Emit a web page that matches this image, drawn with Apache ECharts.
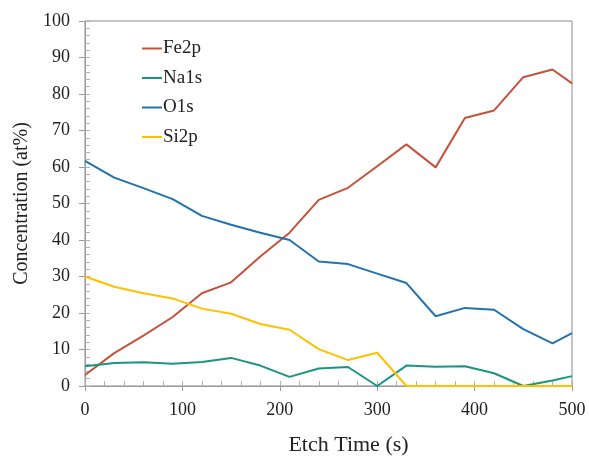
<!DOCTYPE html>
<html>
<head>
<meta charset="utf-8">
<script src="https://cdn.jsdelivr.net/npm/echarts@6/dist/echarts.min.js"></script>
<style>
  html, body { margin: 0; padding: 0; background: #fff; }
  #chart { width: 589px; height: 459px; }
</style>
</head>
<body>
<div id="chart"></div>
<script>
// Etch time (s) for each depth-profile measurement
const etchTimes = [0, 30, 60, 90, 120, 150, 180, 210, 240, 270, 300, 330, 360, 390, 420, 450, 480, 500];

// Atomic concentration (at%) per element
const fe2p = [3.0, 9.0, 13.8, 18.9, 25.4, 28.4, 35.5, 42.0, 51.0, 54.3, 60.2, 66.2, 59.9, 73.4, 75.5, 84.6, 86.7, 82.9];
const na1s = [5.4, 6.3, 6.5, 6.1, 6.6, 7.7, 5.6, 2.5, 4.8, 5.2, 0.0, 5.6, 5.3, 5.4, 3.5, 0.0, 1.5, 2.7];
const o1s  = [61.7, 57.1, 54.2, 51.2, 46.6, 44.2, 42.0, 40.0, 34.1, 33.4, 30.8, 28.2, 19.1, 21.4, 20.9, 15.6, 11.7, 14.5];
const si2p = [30.0, 27.2, 25.4, 24.0, 21.2, 19.8, 17.0, 15.4, 10.1, 7.1, 9.1, 0.0, 0.0, 0.0, 0.0, 0.0, 0.0, 0.0];

const seriesNames = ['Fe2p', 'Na1s', 'O1s', 'Si2p'];
const seriesValues = [fe2p, na1s, o1s, si2p];
const seriesColors = ['#c5523b', '#1b9583', '#2172ad', '#ffc000'];

const FONT = '"Liberation Serif", "Times New Roman", serif';
const AXIS_GREY = '#9a9a9a';

const chart = echarts.init(document.getElementById('chart'), null, { renderer: 'canvas' });

const pairs = vals => etchTimes.map((t, i) => [t, vals[i]]);

chart.setOption({
  backgroundColor: '#fff',
  animation: false,
  grid: {
    left: 85, right: 17, top: 21, bottom: 73,
    containLabel: false, outerBoundsMode: 'none',
    show: true, borderColor: '#8a8a8a', borderWidth: 1
  },
  legend: {
    orient: 'vertical',
    left: 142, top: 39, padding: 0,
    itemWidth: 20, itemHeight: 2, itemGap: 10.5,
    icon: 'rect',
    textStyle: { fontFamily: FONT, fontSize: 19, color: '#222', padding: [0, 0, 0, -4] },
    data: seriesNames
  },
  xAxis: [
    {
      type: 'value', min: 0, max: 500, interval: 100, position: 'bottom',
      name: 'Etch Time (s)', nameLocation: 'middle', nameGap: 48,
      nameTextStyle: { fontFamily: FONT, fontSize: 22, color: '#222', padding: [0, 0, 0, 40] },
      axisLine: { show: true, lineStyle: { color: AXIS_GREY, width: 1 } },
      axisTick: { show: true, inside: false, length: 5, lineStyle: { color: AXIS_GREY } },
      axisLabel: { margin: 15, fontFamily: FONT, fontSize: 18, color: '#222', showMinLabel: true, showMaxLabel: true },
      splitLine: { show: false }
    },
    {
      type: 'value', min: 0, max: 500, interval: 20, position: 'bottom',
      axisLine: { show: false },
      axisTick: { show: true, inside: true, length: 5, lineStyle: { color: '#b0b0b0' } },
      axisLabel: { show: false },
      splitLine: { show: false }
    }
  ],
  yAxis: [
    {
      type: 'value', min: 0, max: 100, interval: 10, position: 'left',
      name: 'Concentration (at%)', nameLocation: 'middle', nameGap: 42,
      nameTextStyle: { fontFamily: FONT, fontSize: 20, color: '#222' },
      axisLine: { show: true, lineStyle: { color: AXIS_GREY, width: 1 } },
      axisTick: { show: true, inside: false, length: 6, lineStyle: { color: AXIS_GREY } },
      axisLabel: { margin: 15, fontFamily: FONT, fontSize: 18, color: '#222' },
      splitLine: { show: false }
    },
    {
      type: 'value', min: 0, max: 100, interval: 2, position: 'left',
      axisLine: { show: false },
      axisTick: { show: true, inside: true, length: 5, lineStyle: { color: '#b0b0b0' } },
      axisLabel: { show: false },
      splitLine: { show: false }
    }
  ],
  series: seriesNames.map((name, i) => ({
    name,
    type: 'line',
    xAxisIndex: 0,
    yAxisIndex: 0,
    data: pairs(seriesValues[i]),
    showSymbol: false,
    symbol: 'none',
    color: seriesColors[i],
    lineStyle: { width: 2, color: seriesColors[i] },
    clip: true
  }))
});
</script>
</body>
</html>
